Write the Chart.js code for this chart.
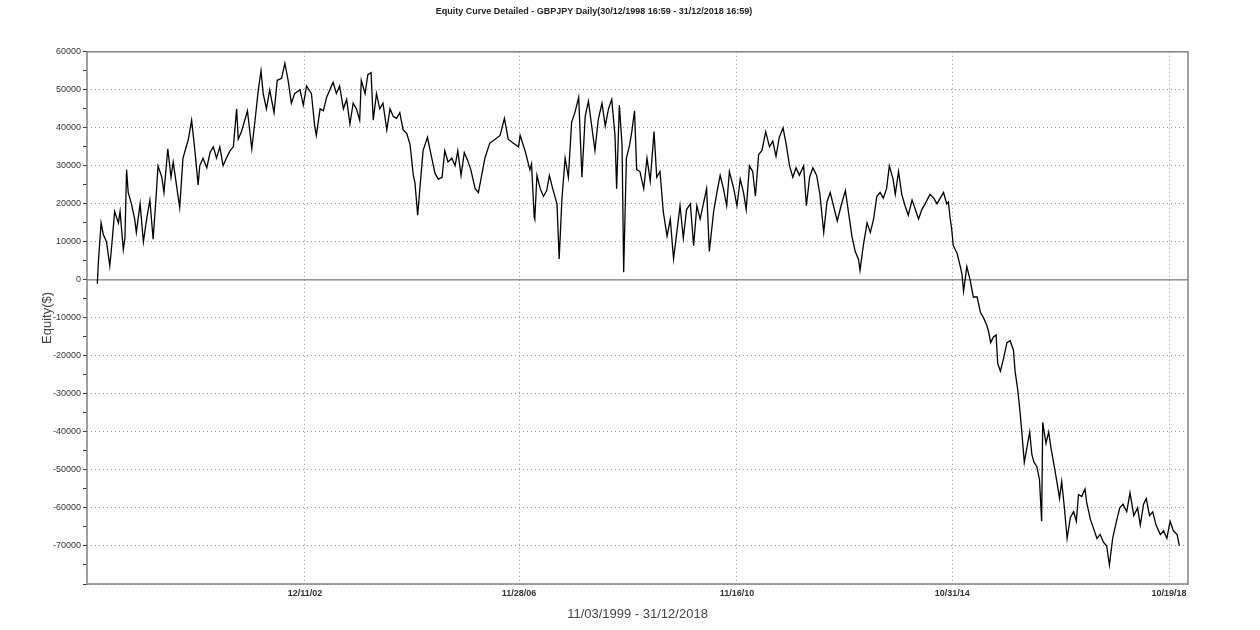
<!DOCTYPE html>
<html>
<head>
<meta charset="utf-8">
<script src="https://cdn.jsdelivr.net/npm/chart.js@4/dist/chart.umd.min.js"></script>
<style>
  html, body { margin: 0; padding: 0; background: #fff; }
  #wrap { width: 1260px; height: 630px; }
</style>
</head>
<body>
<div id="wrap"><canvas id="chart-equity"></canvas></div>
<script>
// 日付 (年の小数表記) と残高
var dates = [
  1999.03, 1999.05, 1999.10, 1999.14, 1999.20, 1999.26, 1999.29, 1999.35, 1999.42, 1999.45,
  1999.51, 1999.54, 1999.57, 1999.60, 1999.66, 1999.72, 1999.75, 1999.82, 1999.88, 1999.94,
  2000.00, 2000.06, 2000.12, 2000.15, 2000.22, 2000.26, 2000.33, 2000.39, 2000.43, 2000.49,
  2000.55, 2000.61, 2000.71, 2000.77, 2000.83, 2000.89, 2000.92, 2000.98, 2001.05, 2001.11,
  2001.17, 2001.23, 2001.29, 2001.35, 2001.41, 2001.48, 2001.54, 2001.60, 2001.63, 2001.69,
  2001.75, 2001.80, 2001.88, 2001.94, 2002.00, 2002.05, 2002.09, 2002.15, 2002.21, 2002.29,
  2002.35, 2002.43, 2002.49, 2002.55, 2002.61, 2002.67, 2002.77, 2002.83, 2002.89, 2002.98,
  2003.04, 2003.07, 2003.14, 2003.20, 2003.26, 2003.32, 2003.38, 2003.44, 2003.50, 2003.57,
  2003.63, 2003.69, 2003.75, 2003.81, 2003.87, 2003.90, 2003.97, 2004.02, 2004.08, 2004.12,
  2004.18, 2004.24, 2004.30, 2004.37, 2004.43, 2004.49, 2004.55, 2004.61, 2004.67, 2004.74,
  2004.80, 2004.86, 2004.89, 2004.94, 2004.98, 2005.04, 2005.12, 2005.20, 2005.26, 2005.32,
  2005.39, 2005.44, 2005.50, 2005.57, 2005.63, 2005.68, 2005.74, 2005.80, 2005.86, 2005.92,
  2006.00, 2006.06, 2006.12, 2006.18, 2006.27, 2006.37, 2006.46, 2006.54, 2006.61, 2006.70,
  2006.80, 2006.83, 2006.92, 2007.01, 2007.04, 2007.09,
  2007.10, 2007.14, 2007.20, 2007.26, 2007.32, 2007.37, 2007.43, 2007.51, 2007.55, 2007.60,
  2007.66, 2007.72, 2007.78, 2007.84, 2007.91, 2007.97, 2008.03, 2008.09, 2008.15, 2008.21,
  2008.27, 2008.34, 2008.40, 2008.46, 2008.52, 2008.58, 2008.61, 2008.66, 2008.71, 2008.74,
  2008.79, 2008.85, 2008.89, 2008.94, 2008.98, 2009.04, 2009.11, 2009.17, 2009.23, 2009.30,
  2009.35, 2009.41, 2009.47, 2009.54, 2009.60, 2009.66, 2009.72, 2009.78, 2009.84, 2009.90,
  2009.97, 2010.03, 2010.09, 2010.15, 2010.21, 2010.27, 2010.32, 2010.40, 2010.46, 2010.52,
  2010.58, 2010.64, 2010.69, 2010.77, 2010.83, 2010.89, 2010.95, 2011.00, 2011.06, 2011.12,
  2011.17, 2011.23, 2011.29, 2011.36, 2011.43, 2011.49, 2011.55, 2011.61, 2011.68, 2011.74,
  2011.80, 2011.86, 2011.92, 2011.98, 2012.06, 2012.11, 2012.17, 2012.23, 2012.30, 2012.36,
  2012.43, 2012.49, 2012.55, 2012.61, 2012.68, 2012.75, 2012.83, 2012.89, 2012.95, 2013.01,
  2013.07, 2013.10, 2013.16, 2013.23, 2013.29, 2013.35, 2013.41, 2013.47, 2013.53, 2013.59,
  2013.64, 2013.71, 2013.75, 2013.81, 2013.87, 2013.93, 2013.99, 2014.06, 2014.12, 2014.18,
  2014.24, 2014.30, 2014.39, 2014.46, 2014.52, 2014.58, 2014.64, 2014.70, 2014.73,
  2014.76, 2014.79, 2014.82, 2014.89, 2014.95, 2014.98, 2015.01, 2015.07, 2015.13, 2015.19,
  2015.26, 2015.32, 2015.38, 2015.44, 2015.47, 2015.51, 2015.56, 2015.61, 2015.64, 2015.69,
  2015.75, 2015.81, 2015.87, 2015.93, 2015.96, 2016.01, 2016.05, 2016.09, 2016.13, 2016.18,
  2016.23, 2016.27, 2016.31, 2016.36, 2016.41, 2016.45, 2016.47, 2016.53, 2016.58, 2016.62,
  2016.67, 2016.73, 2016.78, 2016.82, 2016.87, 2016.92, 2016.98, 2017.04, 2017.09, 2017.13,
  2017.19, 2017.25, 2017.28, 2017.35, 2017.41, 2017.47, 2017.53, 2017.59, 2017.65, 2017.70,
  2017.76, 2017.83, 2017.89, 2017.95, 2018.02, 2018.08, 2018.15, 2018.22, 2018.27, 2018.33,
  2018.38, 2018.44, 2018.50, 2018.56, 2018.64, 2018.70, 2018.76, 2018.82, 2018.88, 2018.95,
  2018.99
];
var equity = [
  -1000, 4700, 15000, 12000, 10000, 3700, 8000, 18000, 15000, 18000,
  8000, 11000, 29000, 23000, 20000, 16000, 12500, 20000, 10000, 16000,
  21000, 10700, 23000, 30000, 27000, 23000, 34500, 27000, 31000, 25000,
  19000, 32000, 37000, 42000, 34000, 25000, 30000, 32000, 29500, 33500,
  35000, 32000, 35000, 30000, 32000, 34000, 35000, 45000, 37000, 39000,
  42000, 44500, 34500, 42000, 50000, 55000, 49000, 45000, 50000, 44000,
  52500, 53000, 57000, 52500, 46500, 49000, 50000, 46000, 51000, 49000,
  40500, 38000, 45000, 44500, 48000, 50000, 52000, 49000, 51000, 45000,
  47500, 41000, 46500, 45000, 42000, 52500, 49000, 54000, 54500, 42000,
  49000, 45000, 46500, 39500, 45000, 43000, 42500, 44000, 39500, 38500,
  35500, 27500, 25500, 17000, 24000, 34000, 37500, 32000, 28000, 26500,
  27000, 34000, 31000, 32000, 30000, 34000, 27500, 33500, 31500, 29000,
  24000, 23000, 27500, 32000, 36000, 37000, 38000, 42500, 37000, 36000,
  35000, 38000, 34000, 29000, 30500, 16500,
  16000, 27500, 24000, 22000, 23500, 27500, 24000, 20000, 5500, 21000,
  32000, 27000, 41500, 44000, 48000, 27000, 43000, 47000, 40500, 34000,
  42000, 46500, 40500, 45000, 47500, 38000, 24000, 46000, 35500, 2000,
  32000, 35500, 39000, 44500, 29000, 28500, 24000, 32000, 26000, 39000,
  27000, 28500, 18000, 11500, 16000, 5500, 12500, 19500, 11000, 18500,
  20000, 9000, 19500, 16000, 20000, 24000, 7500, 18000, 23000, 27500,
  24000, 19500, 28500, 24000, 19500, 26500, 23000, 18500, 30000, 28500,
  22000, 33000, 34000, 39000, 35000, 36500, 32500, 37500, 40000, 35500,
  30000, 27000, 29500, 27500, 30000, 19500, 27000, 29500, 27500, 22500,
  12500, 20500, 23000, 19500, 15500, 19500, 23500, 17500, 11500, 7500,
  5500, 2500, 9000, 15000, 12500, 16000, 22000, 23000, 21500, 24000,
  30000, 26500, 22500, 28500, 22500, 19500, 17000, 21000, 18500, 16000,
  18500, 20000, 22500, 21500, 20000, 21500, 23000, 20000, 20500,
  16500, 13500, 9000, 7000, 3500, 1500, -3000, 3500, 0, -4500,
  -4500, -8500, -10000, -12000, -13500, -16500, -15000, -14500, -22000, -24000,
  -20500, -16500, -16000, -18500, -24000, -29000, -34500, -41000, -48000, -44000,
  -40000, -46000, -48000, -49000, -52500, -63500, -37500, -43000, -40000, -44000,
  -48000, -53000, -57500, -53000, -60000, -68000, -62500, -61000, -63500, -56500,
  -57000, -55000, -58500, -63000, -65500, -68000, -67000, -69000, -70000, -75000,
  -68000, -63500, -60000, -59000, -61000, -56000, -62000, -60000, -64500, -59000,
  -57500, -62000, -61000, -64500, -67000, -66000, -68000, -63500, -66000, -67000,
  -70000
];
var tickYears = [2002.86, 2006.81, 2010.83, 2014.80, 2018.80];
var tickLabels = ['12/11/02', '11/28/06', '11/16/10', '10/31/14', '10/19/18'];

var points = dates.map(function(d, i) { return { x: d, y: equity[i] }; });

// ゼロラインと外枠
var zeroLine = {
  id: 'zeroLine',
  beforeDatasetsDraw: function(c) {
    var y = c.scales.y.getPixelForValue(0);
    var ctx = c.ctx;
    ctx.save();
    ctx.strokeStyle = '#555';
    ctx.lineWidth = 1;
    ctx.beginPath();
    ctx.moveTo(c.chartArea.left, y);
    ctx.lineTo(c.chartArea.right, y);
    ctx.stroke();
    ctx.restore();
  },
  afterDraw: function(c) {
    var a = c.chartArea, ctx = c.ctx;
    ctx.save();
    ctx.strokeStyle = '#808080';
    ctx.lineWidth = 1.5;
    ctx.strokeRect(a.left, a.top, a.right - a.left, a.bottom - a.top);
    ctx.restore();
  }
};

new Chart(document.getElementById('chart-equity'), {
  type: 'line',
  data: {
    datasets: [{
      data: points,
      borderColor: '#000',
      borderWidth: 1.3,
      pointRadius: 0,
      tension: 0
    }]
  },
  options: {
    responsive: true,
    maintainAspectRatio: false,
    animation: false,
    layout: { padding: { top: 0, right: 72, bottom: 0, left: 0 } },
    plugins: {
      legend: { display: false },
      tooltip: { enabled: false },
      title: {
        display: true,
        text: 'Equity Curve Detailed - GBPJPY Daily(30/12/1998 16:59 - 31/12/2018 16:59)',
        color: '#222',
        font: { family: 'Liberation Sans, Arial', size: 9, weight: 'bold' },
        padding: { top: 6, bottom: 35 }
      }
    },
    scales: {
      x: {
        type: 'linear',
        min: 1998.84,
        max: 2019.15,
        afterBuildTicks: function(s) {
          s.ticks = tickYears.map(function(v) { return { value: v }; });
        },
        afterFit: function(s) { s.height = 46; },
        ticks: {
          color: '#333',
          font: { family: 'Liberation Sans, Arial', size: 9, weight: 'bold' },
          maxRotation: 0,
          padding: 4,
          callback: function(v) {
            var i = tickYears.indexOf(v);
            return i >= 0 ? tickLabels[i] : '';
          }
        },
        grid: { color: '#999', drawTicks: false },
        border: { display: false, dash: [1, 3] },
        title: {
          display: true,
          text: '11/03/1999 - 31/12/2018',
          color: '#444',
          font: { family: 'Liberation Sans, Arial', size: 13 },
          padding: { top: 0, bottom: 8 }
        }
      },
      y: {
        min: -80000,
        max: 60000,
        afterFit: function(s) { s.width = 87; },
        ticks: {
          stepSize: 5000,
          color: '#333',
          font: { family: 'Liberation Sans, Arial', size: 9 },
          padding: 2,
          callback: function(v) {
            return (v % 10000 === 0 && v > -80000) ? String(v) : '';
          }
        },
        grid: {
          color: function(ctx) {
            var v = ctx.tick ? ctx.tick.value : 1;
            return (v % 10000 === 0 && v !== 0) ? '#999' : 'rgba(0,0,0,0)';
          },
          tickColor: '#333',
          tickLength: 4
        },
        border: { display: false, dash: [1, 3] },
        title: {
          display: true,
          text: 'Equity($)',
          color: '#444',
          font: { family: 'Liberation Sans, Arial', size: 13 },
          padding: { top: 40, bottom: 0 }
        }
      }
    }
  },
  plugins: [zeroLine]
});
</script>
</body>
</html>
